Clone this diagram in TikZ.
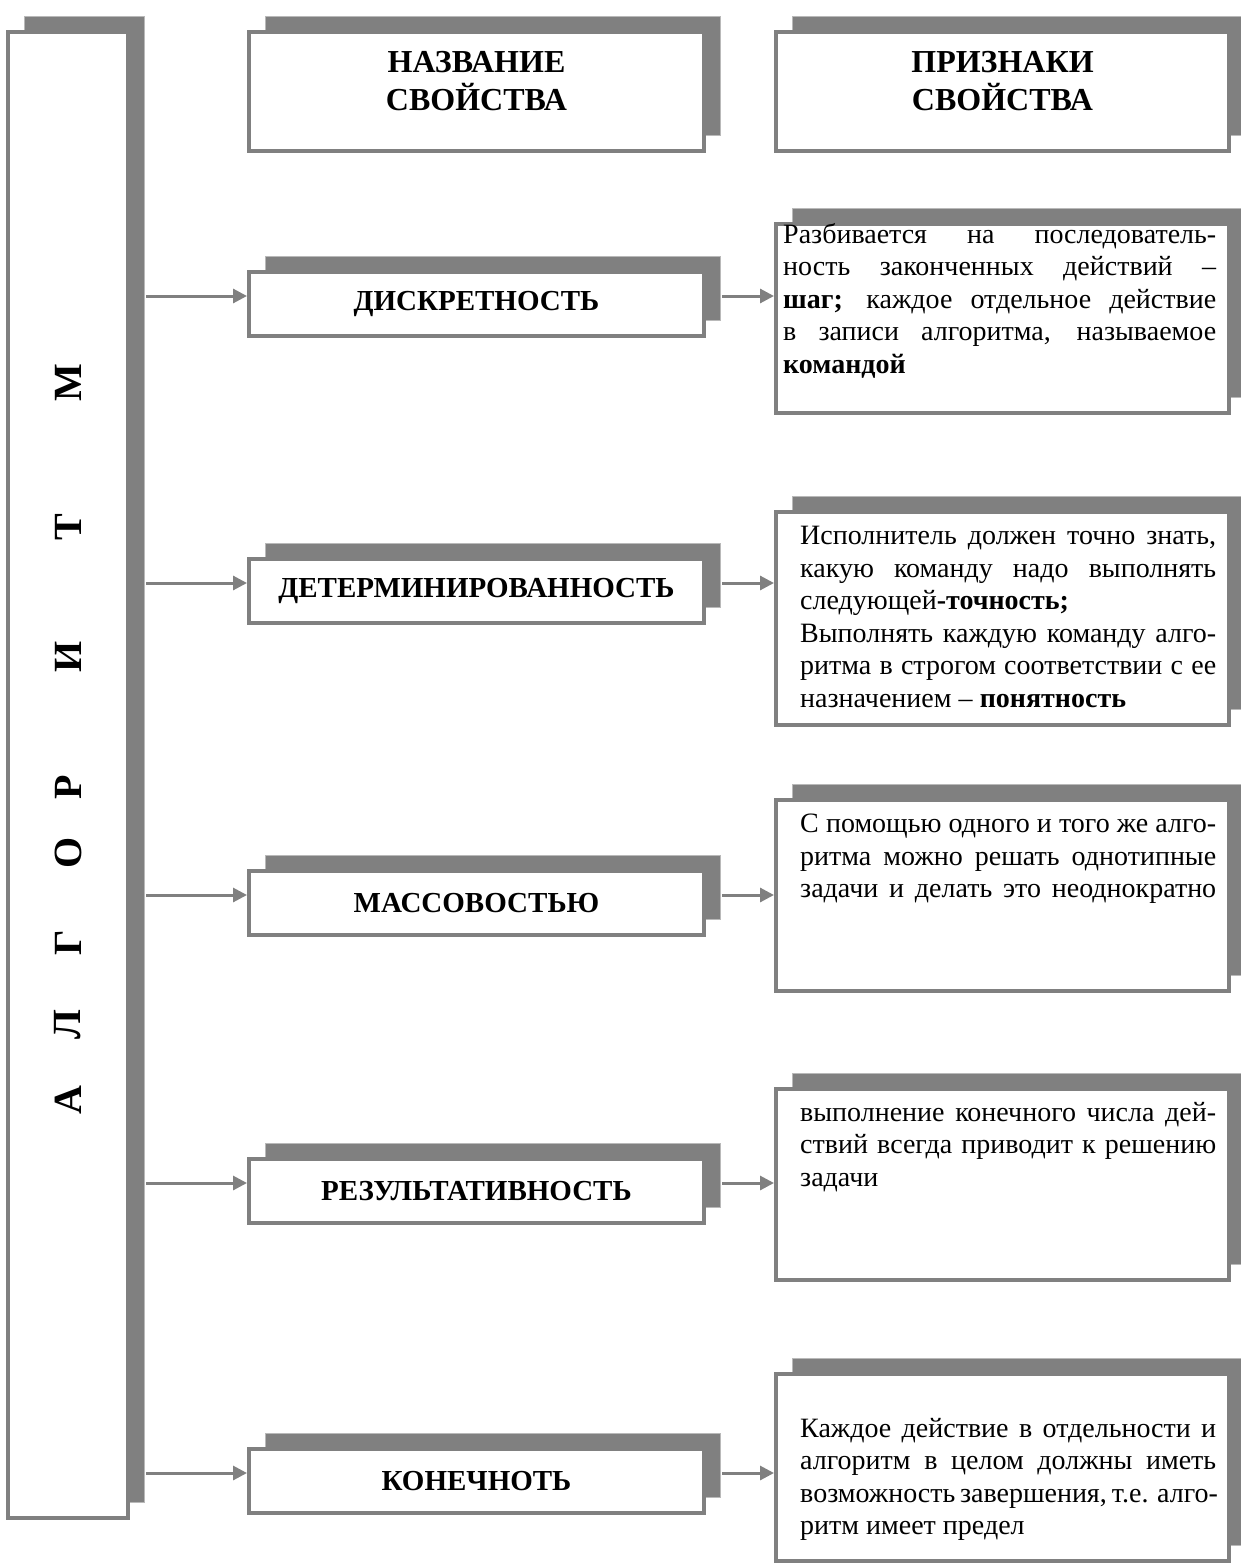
\documentclass[tikz,border=0pt]{standalone}
\usepackage{fontspec}
\setmainfont{Liberation Serif}
\usepackage{tikz}
\usetikzlibrary{positioning}
\usetikzlibrary{arrows.meta}
\usetikzlibrary{shadows}
\usetikzlibrary{calc}
\definecolor{frame}{HTML}{808080}
\tikzstyle{block} = [draw=frame, line width=4pt, fill=white, inner sep=0pt, general shadow={fill=frame, draw=frame!55, line width=0.8pt, shadow xshift=16pt, shadow yshift=16pt}]
\tikzstyle{prop} = [block, minimum width=455pt, minimum height=64pt, font=\bfseries\fontsize{29}{32}\selectfont]
\tikzstyle{head} = [block, minimum width=455pt, minimum height=119pt]
\tikzstyle{sign} = [block, minimum width=453pt]
\tikzstyle{headtext} = [align=center, inner sep=0pt, font=\bfseries\fontsize{32}{38}\selectfont]
\tikzstyle{signtext} = [anchor=north west, align=left, inner sep=0pt, font=\fontsize{28}{32.5}\selectfont]
\tikzstyle{letter} = [rotate=90, inner sep=0pt, font=\bfseries\fontsize{40}{40}\selectfont]
\tikzstyle{link} = [->, draw=frame, line width=3pt]
\newcommand{\jline}[2][416pt]{\hbox to #1{#2}}

\begin{document}
\begin{tikzpicture}[>={Triangle[length=14pt,width=14pt]}, x=1pt, y=-1pt]
    \useasboundingbox (0,0) rectangle (1240,1565);

    % left column
    \node[block, minimum width=120pt, minimum height=1486pt] (algo) at (68,775) {};
    \foreach \l/\y [count=\i] in {А/1100, Л/1025, Г/943, О/853, Р/787, И/657, Т/527, М/383}
       \node[letter] (let\i) at (68,\y) {\l};

    % headers
    \node[head] (hname) at (476.5,91.5) {};
    \node[headtext] (hnametext) at ($(hname.center)+(0,-10)$) {НАЗВАНИЕ\\СВОЙСТВА};
    \node[head, minimum width=453pt] (hsign) at (1002.5,91.5) {};
    \node[headtext] (hsigntext) at ($(hsign.center)+(0,-10)$) {ПРИЗНАКИ\\СВОЙСТВА};

    % properties
    \node[prop] (discr) at (476.5,304) {ДИСКРЕТНОСТЬ};
    \node[prop] (determ) at (476.5,591) {ДЕТЕРМИНИРОВАННОСТЬ};
    \node[prop] (mass) at (476.5,903) {МАССОВОСТЬЮ};
    \node[prop] (result) at (476.5,1191) {РЕЗУЛЬТАТИВНОСТЬ};
    \node[prop] (finite) at (476.5,1481) {КОНЕЧНОТЬ};

    % signs
    \node[sign, minimum height=189pt] (sdiscr) at (1002.5,318.5) {};
    \node[sign, minimum height=213pt] (sdeterm) at (1002.5,618.5) {};
    \node[sign, minimum height=191pt] (smass) at (1002.5,895.5) {};
    \node[sign, minimum height=191pt] (sresult) at (1002.5,1184.5) {};
    \node[sign, minimum height=187pt] (sfinite) at (1002.5,1467.5) {};

    \node[signtext] (tdiscr) at (783,223) {%
       \jline[433pt]{Разбивается на последователь-}\\
       \jline[433pt]{ность законченных действий –}\\
       \jline[433pt]{\textbf{шаг;} каждое отдельное действие}\\
       \jline[433pt]{в записи алгоритма, называемое}\\
       \textbf{командой}};
    \node[signtext] (tdeterm) at (800,526) {%
       \jline{Исполнитель должен точно знать,}\\
       \jline{какую команду надо выполнять}\\
       следующей\textbf{-точность;}\\
       \jline{Выполнять каждую команду алго-}\\
       \jline{ритма в строгом соответствии с ее}\\
       назначением – \textbf{понятность}};
    \node[signtext] (tmass) at (800,814) {%
       \jline{С помощью одного и того же алго-}\\
       \jline{ритма можно решать однотипные}\\
       \jline{задачи и делать это неоднократно}};
    \node[signtext] (tresult) at (800,1102) {%
       \jline{выполнение конечного числа дей-}\\
       \jline{ствий всегда приводит к решению}\\
       задачи};
    \node[signtext] (tfinite) at (800,1418) {%
       \jline{Каждое действие в отдельности и}\\
       \jline{алгоритм в целом должны иметь}\\
       \jline{возможность завершения, т.е. алго-}\\
       ритм имеет предел};

    % connectors
    \foreach \p/\s in {discr/sdiscr, determ/sdeterm, mass/smass, result/sresult, finite/sfinite}{
       \draw[link] ($(algo.east |- \p.west)+(16,-8)$) -- ($(\p.west)+(0,-8)$);
       \draw[link] ($(\p.east)+(16,-8)$) -- ($(\p.east -| \s.west)+(0,-8)$);
    }
\end{tikzpicture}
\end{document}
